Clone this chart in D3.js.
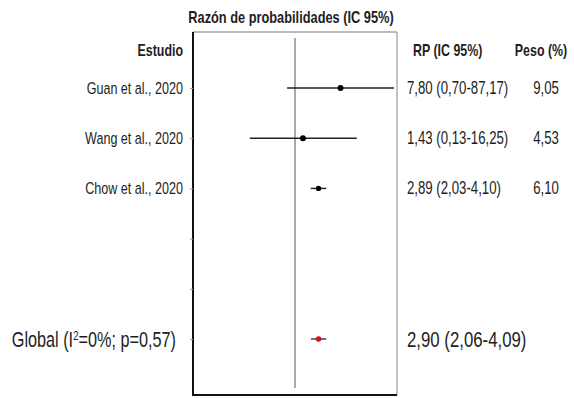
<!DOCTYPE html>
<html><head><meta charset="utf-8">
<script src="https://cdn.jsdelivr.net/npm/d3@7/dist/d3.min.js"></script>
<style>
html,body{margin:0;padding:0;background:#fff;}
svg{display:block;}
text{font-family:'Liberation Sans',Arial,sans-serif;fill:#1e1e1e;}
</style></head>
<body><svg id="c" width="574" height="398"></svg>
<script>
const studies = ["Guan et al., 2020", "Wang et al., 2020", "Chow et al., 2020"];
const oddsRatio = [7.80, 1.43, 2.89];
const ciLow = [0.70, 0.13, 2.03];
const ciHigh = [87.17, 16.25, 4.10];
const weights = [9.05, 4.53, 6.10];
const pooled = {label: "Global", i2: 0, p: 0.57, or: 2.90, lo: 2.06, hi: 4.09};
const rows = ["Guan et al., 2020", "Wang et al., 2020", "Chow et al., 2020", "blank1", "blank2", "Global"];
const xDomain = [0.01, 100];

const loc = d3.formatLocale({decimal: ",", thousands: ".", grouping: [3], currency: ["", ""]});
const f2 = loc.format(".2f");

const svg = d3.select("#c");
const L = 193, R = 397, T = 32, B = 395;
const SX = 0.75;
const K = 0.8 / SX;
const x = d3.scaleLog().domain(xDomain).range([L, R]);
const y = d3.scalePoint().domain(rows).range([88, 339]);

function txt(px, py, str, size, opts = {}) {
  const t = svg.append("text")
    .attr("transform", `translate(${px},${py}) scale(${SX},1)`)
    .attr("font-size", size * K)
    .attr("text-anchor", opts.anchor || "start")
    .attr("font-weight", opts.bold ? "bold" : "normal");
  if (str !== null) t.text(str);
  return t;
}

svg.append("defs").append("clipPath").attr("id", "clip")
  .append("rect").attr("x", L).attr("y", T).attr("width", R - L).attr("height", B - T);

// frame
svg.append("line").attr("x1", L).attr("x2", R).attr("y1", T).attr("y2", T).attr("stroke", "#777").attr("stroke-width", 1);
svg.append("line").attr("x1", R).attr("x2", R).attr("y1", T).attr("y2", B).attr("stroke", "#888").attr("stroke-width", 1);

// left axis with ticks
const ax = svg.append("g").attr("transform", `translate(${L},0)`)
  .call(d3.axisLeft(y).tickSize(3).tickFormat(""));
ax.select(".domain").attr("stroke", "#111").attr("stroke-width", 2).attr("d", `M0,${T}V${B}`);
ax.selectAll(".tick line").attr("stroke", "#999");
svg.append("line").attr("x1", L - 1).attr("x2", R).attr("y1", B).attr("y2", B).attr("stroke", "#111").attr("stroke-width", 2);

// reference line
svg.append("line").attr("x1", x(1)).attr("x2", x(1)).attr("y1", 38).attr("y2", 388)
  .attr("stroke", "#555").attr("stroke-width", 1);

const g = svg.append("g").attr("clip-path", "url(#clip)");
studies.forEach((s, i) => {
  g.append("line").attr("x1", x(ciLow[i])).attr("x2", x(ciHigh[i]))
    .attr("y1", y(s)).attr("y2", y(s)).attr("stroke", "#222").attr("stroke-width", 1.4);
  g.append("circle").attr("cx", x(oddsRatio[i])).attr("cy", y(s)).attr("r", i === 2 ? 2.7 : 3).attr("fill", "#000");
});
g.append("line").attr("x1", x(pooled.lo)).attr("x2", x(pooled.hi))
  .attr("y1", y("Global")).attr("y2", y("Global")).attr("stroke", "#333").attr("stroke-width", 1.4);
g.append("circle").attr("cx", x(pooled.or)).attr("cy", y("Global")).attr("r", 2.8).attr("fill", "#d0101c");

// title
txt(291, 23, "Razón de probabilidades (IC 95%)", 16, {anchor: "middle", bold: true});

// headers
const hy = 56;
txt(183, hy, "Estudio", 15.5, {anchor: "end", bold: true});
txt(413, hy, "RP (IC 95%)", 15.5, {bold: true});
txt(541, hy, "Peso (%)", 15.5, {anchor: "middle", bold: true});

// study rows
studies.forEach((s, i) => {
  txt(183, y(s) + 6, s, 15.7, {anchor: "end"});
  txt(407, y(s) + 6, `${f2(oddsRatio[i])} (${f2(ciLow[i])}-${f2(ciHigh[i])})`, 16.5);
  txt(546, y(s) + 6, f2(weights[i]), 16.5, {anchor: "middle"});
});

// pooled row
const gl = txt(176, y("Global") + 8, null, 20.3, {anchor: "end"});
gl.append("tspan").text(`${pooled.label} (I`);
gl.append("tspan").attr("font-size", 13).attr("dy", -7.5).text("2");
gl.append("tspan").attr("dy", 7.5).text(`=${pooled.i2}%; p=${f2(pooled.p)})`);
txt(407, y("Global") + 8, `${f2(pooled.or)} (${f2(pooled.lo)}-${f2(pooled.hi)})`, 21);
</script></body></html>
